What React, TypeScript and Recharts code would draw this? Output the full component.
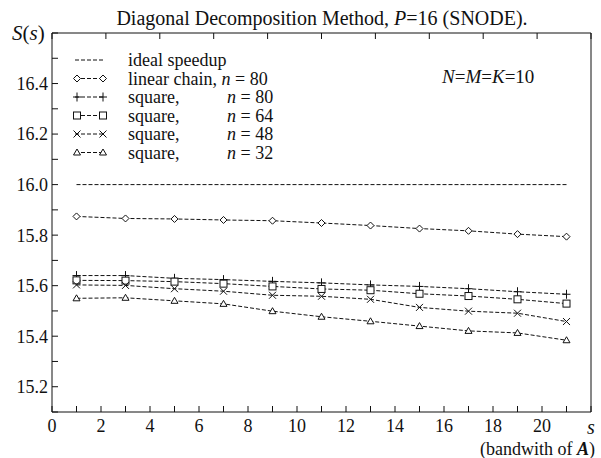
import { LineChart, Line, XAxis, YAxis } from 'recharts';

// bandwidth s of matrix A
const bandwidths = [1, 3, 5, 7, 9, 11, 13, 15, 17, 19, 21];

// speedup S(s) per series
const idealSpeedup = [16.0, 16.0, 16.0, 16.0, 16.0, 16.0, 16.0, 16.0, 16.0, 16.0, 16.0];
const chain80 = [15.874, 15.866, 15.864, 15.86, 15.857, 15.848, 15.838, 15.826, 15.817, 15.804, 15.794];
const square80 = [15.64, 15.64, 15.629, 15.624, 15.617, 15.611, 15.603, 15.597, 15.588, 15.576, 15.566];
const square64 = [15.621, 15.62, 15.616, 15.608, 15.597, 15.587, 15.582, 15.568, 15.559, 15.546, 15.529];
const square48 = [15.603, 15.601, 15.588, 15.578, 15.562, 15.558, 15.546, 15.514, 15.499, 15.491, 15.458];
const square32 = [15.55, 15.552, 15.54, 15.528, 15.499, 15.477, 15.459, 15.44, 15.421, 15.413, 15.384];

const xTicks = [0, 1, 2, 3, 4, 5, 6, 7, 8, 9, 10, 11, 12, 13, 14, 15, 16, 17, 18, 19, 20, 21, 22];
const yTicks = [15.1, 15.2, 15.3, 15.4, 15.5, 15.6, 15.7, 15.8, 15.9, 16.0, 16.1, 16.2, 16.3, 16.4, 16.5, 16.6];

const data = bandwidths.map((s, i) => ({
  s,
  ideal: idealSpeedup[i],
  chain80: chain80[i],
  square80: square80[i],
  square64: square64[i],
  square48: square48[i],
  square32: square32[i],
}));

const FONT = '"Liberation Serif", "Times New Roman", serif';
const INK = '#111';
const DASH = '4 2';

type Shape = 'diamond' | 'plus' | 'square' | 'cross' | 'triangle';

const Marker = ({ shape, cx, cy }: { shape: Shape; cx: number; cy: number }) => {
  const st = { stroke: INK, strokeWidth: 1, fill: '#fff' };
  switch (shape) {
    case 'diamond':
      return <polygon points={`${cx},${cy - 3.5} ${cx + 3.5},${cy} ${cx},${cy + 3.5} ${cx - 3.5},${cy}`} {...st} />;
    case 'plus':
      return <path d={`M${cx - 4},${cy}H${cx + 4}M${cx},${cy - 4.5}V${cy + 4.5}`} stroke={INK} fill="none" />;
    case 'square':
      return <rect x={cx - 3.5} y={cy - 3.5} width={7} height={7} {...st} />;
    case 'cross':
      return <path d={`M${cx - 3.5},${cy - 3.5}L${cx + 3.5},${cy + 3.5}M${cx - 3.5},${cy + 3.5}L${cx + 3.5},${cy - 3.5}`} stroke={INK} fill="none" />;
    default:
      return <polygon points={`${cx},${cy - 3.5} ${cx + 3.5},${cy + 2.5} ${cx - 3.5},${cy + 2.5}`} {...st} />;
  }
};

const dotOf = (shape: Shape) => (p: any) => (
  <g key={`${shape}-${p.index}`}>
    <Marker shape={shape} cx={p.cx} cy={p.cy} />
  </g>
);

const series: { key: string; shape: Shape | null; label: string; n: string }[] = [
  { key: 'ideal', shape: null, label: 'ideal speedup', n: '' },
  { key: 'chain80', shape: 'diamond', label: 'linear chain,', n: '80' },
  { key: 'square80', shape: 'plus', label: 'square,', n: '80' },
  { key: 'square64', shape: 'square', label: 'square,', n: '64' },
  { key: 'square48', shape: 'cross', label: 'square,', n: '48' },
  { key: 'square32', shape: 'triangle', label: 'square,', n: '32' },
];

const legendRows = [60, 78.5, 97, 115.5, 134, 152.5];

const tickStyle = { fontFamily: FONT, fontSize: 18, fill: INK };

export default function App() {
  return (
    <div style={{ position: 'absolute', left: 0, top: 0, width: 601, height: 458, background: '#fff' }}>
      <LineChart width={601} height={458} data={data} margin={{ top: 32, right: 9, bottom: 0, left: 0 }}>
        <XAxis
          dataKey="s"
          type="number"
          domain={[0, 22]}
          ticks={xTicks}
          tickSize={-6}
          tickMargin={13}
          height={46}
          interval={0}
          stroke={INK}
          tick={tickStyle}
          tickFormatter={(v: number) => (v % 2 === 0 && v < 22 ? String(v) : '')}
        />
        <XAxis
          xAxisId="top"
          orientation="top"
          type="number"
          domain={[0, 22]}
          ticks={xTicks}
          tickSize={-6}
          height={1}
          interval={0}
          stroke={INK}
          tickFormatter={() => ''}
        />
        <YAxis
          type="number"
          domain={[15.1, 16.6]}
          ticks={yTicks}
          tickSize={-6}
          tickMargin={10}
          width={52}
          interval={0}
          stroke={INK}
          tick={tickStyle}
          tickFormatter={(v: number) => {
            const t = Math.round(v * 10);
            return t % 2 === 0 && t < 166 ? v.toFixed(1) : '';
          }}
        />
        <YAxis
          yAxisId="right"
          orientation="right"
          type="number"
          domain={[15.1, 16.6]}
          ticks={yTicks}
          tickSize={-6}
          width={1}
          interval={0}
          stroke={INK}
          tickFormatter={() => ''}
        />
        {series.map((s) => (
          <Line
            key={s.key}
            dataKey={s.key}
            name={s.label}
            type="linear"
            stroke={INK}
            strokeWidth={1}
            strokeDasharray={DASH}
            dot={s.shape ? dotOf(s.shape) : false}
            activeDot={false}
            isAnimationActive={false}
          />
        ))}
      </LineChart>
      <svg width={601} height={458} style={{ position: 'absolute', left: 0, top: 0, pointerEvents: 'none' }}>
        {series.map((s, i) => {
          const y = legendRows[i];
          return (
            <g key={s.key}>
              <line x1={75} x2={105} y1={y} y2={y} stroke={INK} strokeDasharray={DASH} />
              {s.shape && <Marker shape={s.shape} cx={77} cy={y} />}
              {s.shape && <Marker shape={s.shape} cx={103} cy={y} />}
              <text x={128} y={y} dominantBaseline="central" fontFamily={FONT} fontSize={18} fill={INK}>
                {s.label}
                {s.n && s.shape === 'diamond' && (
                  <tspan>
                    {' '}<tspan fontStyle="italic">n</tspan> = {s.n}
                  </tspan>
                )}
              </text>
              {s.n && s.shape !== 'diamond' && (
                <text x={227} y={y} dominantBaseline="central" fontFamily={FONT} fontSize={18} fill={INK}>
                  <tspan fontStyle="italic">n</tspan> = {s.n}
                </text>
              )}
            </g>
          );
        })}
        <text x={322} y={18} textAnchor="middle" dominantBaseline="central" fontFamily={FONT} fontSize={20} fill={INK}>
          Diagonal Decomposition Method, <tspan fontStyle="italic">P</tspan>=16 (SNODE).
        </text>
        <text x={12} y={33} dominantBaseline="central" fontFamily={FONT} fontSize={21} fill={INK}>
          <tspan fontStyle="italic">S</tspan>(<tspan fontStyle="italic">s</tspan>)
        </text>
        <text x={442} y={76} dominantBaseline="central" fontFamily={FONT} fontSize={19} fill={INK} fontStyle="italic">
          N<tspan fontStyle="normal">=</tspan>M<tspan fontStyle="normal">=</tspan>K<tspan fontStyle="normal">=10</tspan>
        </text>
        <text x={591} y={427} textAnchor="middle" dominantBaseline="central" fontFamily={FONT} fontSize={20} fill={INK} fontStyle="italic">
          s
        </text>
        <text x={595} y={449} textAnchor="end" dominantBaseline="central" fontFamily={FONT} fontSize={18} fill={INK}>
          (bandwith of <tspan fontStyle="italic" fontWeight="bold">A</tspan>)
        </text>
      </svg>
    </div>
  );
}
